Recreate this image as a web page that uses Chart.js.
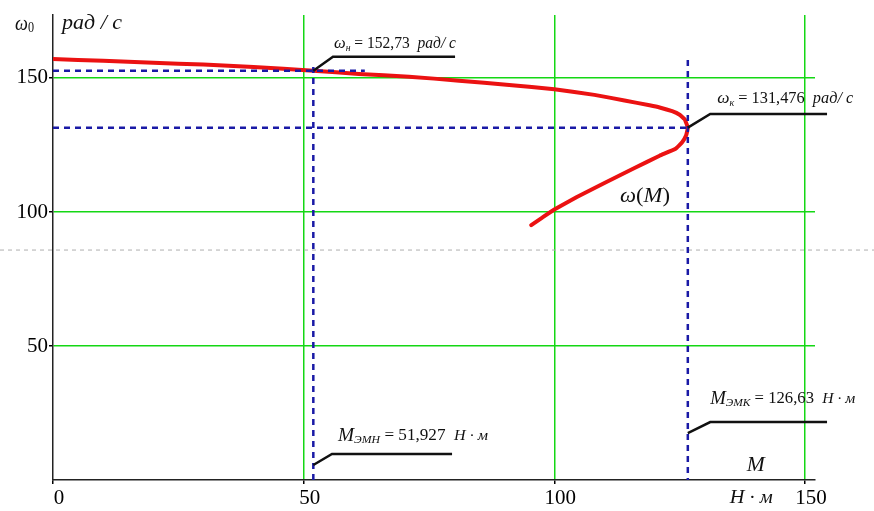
<!DOCTYPE html>
<html><head><meta charset="utf-8">
<script src="https://cdn.jsdelivr.net/npm/chart.js@4.4.0/dist/chart.umd.min.js"></script>
<style>html,body{margin:0;padding:0;background:#fff;}canvas{display:block;}</style>
</head><body>
<canvas id="c" width="874" height="511"></canvas>
<script>
// ---- data ----
const xTicks = [0, 50, 100, 150];
const yTicks = [50, 100, 150];
const M_nom = 51.927, W_nom = 152.73, M_k = 126.63, W_k = 131.476;

// upper (stable) branch of omega(M)
const upperM = [0, 10, 20, 30, 40, 51.927, 61, 71, 81, 91, 100, 108, 114, 119, 121, 123.5, 125.0, 126.0, 126.63];
const upperW = [157.1, 156.4, 155.7, 155.0, 154.1, 152.73, 151.5, 150.5, 149.0, 147.4, 145.8, 143.7, 141.6, 139.8, 139.0, 137.6, 136.3, 134.6, 131.476];
// lower branch
const lowerM = [126.3, 125.5, 124.2, 121, 116, 110, 104.5, 100, 97.6, 95.4];
const lowerW = [128.6, 126.0, 123.6, 121.0, 116.4, 110.8, 105.6, 100.9, 97.9, 95.1];

// guide (dashed) lines
const nomHM = [0, 62.2],   nomHW = [W_nom, W_nom];
const nomVM = [M_nom, M_nom], nomVW = [154.1, 0];
const kHM = [0, M_k],      kHW = [W_k, W_k];
const kVM = [M_k, M_k],    kVW = [156.7, 0];
// leader lines
const ldNomWM = [M_nom, 55.85, 80.2], ldNomWW = [W_nom, 157.9, 157.9];
const ldKWM = [M_k, 131.1, 154.4],    ldKWW = [W_k, 136.6, 136.6];
const ldNomMM = [M_nom, 55.65, 79.6], ldNomMW = [5.6, 9.7, 9.7];
const ldKMM = [M_k, 131.1, 154.4],    ldKMW = [17.5, 21.6, 21.6];
// level of the grey dashed (page-break) line
const pageBreakW = [85.8];

const pts = (xs, ys) => xs.map((x, i) => ({x, y: ys[i]}));
const curve = pts(upperM, upperW).concat(pts(lowerM, lowerW));

const BLUE = '#1a1aa6', BLACK = '#111', RED = 'rgb(235,18,18)', GREEN = 'rgb(20,215,20)';
const dashed = (data) => ({data, borderColor: BLUE, borderWidth: 2.5, borderDash: [6, 5], showLine: true, pointRadius: 0, tension: 0});
const leader = (data) => ({data, borderColor: BLACK, borderWidth: 2.5, showLine: true, pointRadius: 0, tension: 0, clip: false});

const SERIF = '"Liberation Serif", "Times New Roman", serif';

function drawRich(ctx, x, y, parts, targetW) {
  let w = 0;
  parts.forEach(p => {
    ctx.font = (p.it ? 'italic ' : '') + p.size + 'px ' + SERIF;
    p.w = ctx.measureText(p.t).width; w += p.w;
  });
  const k = targetW ? targetW / w : 1;
  ctx.save();
  ctx.translate(x, y); ctx.scale(k, 1);
  ctx.fillStyle = BLACK; ctx.textBaseline = 'middle'; ctx.textAlign = 'left';
  let cx = 0;
  parts.forEach(p => {
    ctx.font = (p.it ? 'italic ' : '') + p.size + 'px ' + SERIF;
    ctx.fillText(p.t, cx, p.dy || 0);
    cx += p.w;
  });
  ctx.restore();
}

const labels = [
  {m: 56.05, w: 162.7, tw: 122, parts: [{t:'ω',it:1,size:17},{t:'н',it:1,size:10,dy:4},{t:' = 152,73  ',size:16},{t:'рад/ с',it:1,size:16}]},
  {m: 132.5, w: 142.2, tw: 136, parts: [{t:'ω',it:1,size:17},{t:'к',it:1,size:10,dy:4},{t:' = 131,476  ',size:16},{t:'рад/ с',it:1,size:16}]},
  {m: 56.85, w: 16.4, tw: 150, parts: [{t:'M',it:1,size:18},{t:'ЭМН',it:1,size:11,dy:4},{t:' = 51,927  ',size:16},{t:'Н · м',it:1,size:15}]},
  {m: 131.1, w: 30.2, tw: 145, parts: [{t:'M',it:1,size:18},{t:'ЭМК',it:1,size:11,dy:4},{t:' = 126,63  ',size:16},{t:'Н · м',it:1,size:15}]},
  {m: 113.1, w: 105.6, tw: 50, parts: [{t:'ω',it:1,size:21},{t:'(',size:21},{t:'M',it:1,size:21},{t:')',size:21}]},
  {m: -7.58, w: 170.1, tw: 19, parts: [{t:'ω',it:1,size:21},{t:'0',size:14,dy:4}]},
  {m: 1.8, w: 170.3, tw: 60, parts: [{t:'рад / с',it:1,size:21}]},
  {m: 138.4, w: 5.6, tw: 18, parts: [{t:'M',it:1,size:22}]},
  {m: 135.0, w: -6.7, tw: 43, parts: [{t:'Н · м',it:1,size:18}]}
];

const decor = {
  id: 'decor',
  beforeDatasetsDraw(chart) {
    const ctx = chart.ctx, y = chart.scales.y.getPixelForValue(pageBreakW[0]);
    ctx.save();
    ctx.strokeStyle = 'rgb(175,175,175)'; ctx.lineWidth = 1; ctx.setLineDash([4, 4]);
    ctx.beginPath(); ctx.moveTo(0, y); ctx.lineTo(chart.width, y); ctx.stroke();
    ctx.restore();
  },
  afterDraw(chart) {
    const ctx = chart.ctx, sx = chart.scales.x, sy = chart.scales.y;
    labels.forEach(l => drawRich(ctx, sx.getPixelForValue(l.m), sy.getPixelForValue(l.w), l.parts, l.tw));
  }
};

new Chart(document.getElementById('c'), {
  type: 'scatter',
  data: {
    datasets: [
      leader(pts(ldNomWM, ldNomWW)),
      leader(pts(ldKWM, ldKWW)),
      leader(pts(ldNomMM, ldNomMW)),
      leader(pts(ldKMM, ldKMW)),
      dashed(pts(nomHM, nomHW)),
      dashed(pts(nomVM, nomVW)),
      dashed(pts(kHM, kHW)),
      dashed(pts(kVM, kVW)),
      {data: curve, borderColor: RED, borderWidth: 4, showLine: true, pointRadius: 0, tension: 0.08, borderCapStyle: 'round', borderJoinStyle: 'round'}
    ]
  },
  options: {
    responsive: false, animation: false, devicePixelRatio: 1,
    layout: {padding: {top: 15, right: 59, left: 0, bottom: 0}},
    plugins: {legend: {display: false}, tooltip: {enabled: false}},
    scales: {
      x: {
        type: 'linear', min: 0, max: 152,
        afterBuildTicks: s => { s.ticks = xTicks.map(v => ({value: v})); },
        afterFit: s => { s.height = 31; },
        ticks: {font: {family: SERIF, size: 21}, color: '#000', padding: 2, labelOffset: 6, maxRotation: 0, autoSkip: false},
        grid: {color: c => (c.tick && c.tick.value === 0) ? 'rgba(0,0,0,0)' : GREEN, lineWidth: 1.5, tickLength: 4, tickColor: '#000'},
        border: {color: '#222', width: 1.5}
      },
      y: {
        type: 'linear', min: 0, max: 173.5,
        afterBuildTicks: s => { s.ticks = yTicks.map(v => ({value: v})); },
        afterFit: s => { s.width = 53; },
        ticks: {font: {family: SERIF, size: 21}, color: '#000', padding: 1, autoSkip: false},
        grid: {color: GREEN, lineWidth: 1.5, tickLength: 4, tickColor: '#000'},
        border: {color: '#222', width: 1.5}
      }
    }
  },
  plugins: [decor]
});
</script>
</body></html>
